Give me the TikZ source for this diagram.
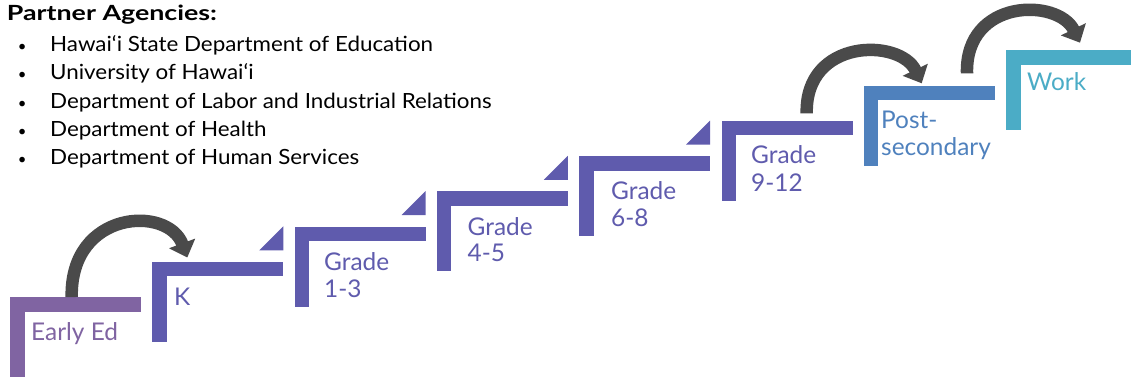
\documentclass[tikz,border=0pt]{standalone}
\usepackage{fontspec}
\setmainfont{Lato}
\newfontfamily\listfont[FakeStretch=1.07]{Lato}
\newfontfamily\headfont[FakeStretch=1.28]{Lato}
\usetikzlibrary{arrows.meta}
\definecolor{cEarly}{HTML}{8064A2}
\definecolor{cStep}{HTML}{5F5BAD}
\definecolor{cPost}{HTML}{4F81BD}
\definecolor{cWork}{HTML}{4BACC6}
\definecolor{cArrow}{HTML}{4A4A4A}
\tikzset{
  lab/.style={anchor=base west, inner sep=0pt, font=\fontsize{24.5}{27.7}\selectfont},
  listtxt/.style={anchor=base west, inner sep=0pt, font=\listfont\fontsize{21}{24}\selectfont},
  bul/.style={anchor=base, inner sep=0pt, font=\fontsize{15}{18}\selectfont},
  arr/.style={draw=cArrow, line width=12.5bp, -{Triangle[length=15bp,width=27bp]}},
}
\begin{document}
\begin{tikzpicture}[x=1bp,y=-1bp]
\useasboundingbox (0,0) rectangle (1131,377);
\clip (0,0) rectangle (1131,377);

% steps
\foreach \i/\c in {0/cEarly,1/cStep,2/cStep,3/cStep,4/cStep,5/cStep,6/cPost,7/cWork}{
  \coordinate (s\i) at ({10+142.3*\i},{297-35.25*\i});
  \fill[\c] (s\i) rectangle ++(131,14.5);
  \fill[\c] (s\i) rectangle ++(14.5,80);
}
% small triangles
\foreach \i in {1,2,3,4}{
  \fill[cStep] ([shift={(131,-35.5)}]s\i) -- ++(0,24) -- ++(-24,0) -- cycle;
}

% labels
\node[lab, text=cEarly] (l0) at (31,340) {Early Ed};
\node[lab, text=cStep] (l1) at (174,305) {K};
\node[lab, text=cStep] (l2a) at (324,270) {Grade};
\node[lab, text=cStep] (l2b) at (324,297.7) {1-3};
\node[lab, text=cStep] (l3a) at (467.5,235) {Grade};
\node[lab, text=cStep] (l3b) at (467.5,261.7) {4-5};
\node[lab, text=cStep] (l4a) at (611,199) {Grade};
\node[lab, text=cStep] (l4b) at (611,226.7) {6-8};
\node[lab, text=cStep] (l5a) at (751,163.3) {Grade};
\node[lab, text=cStep] (l5b) at (751,191.7) {9-12};
\node[lab, text=cPost] (l6a) at (881,128.3) {Post-};
\node[lab, text=cPost] (l6b) at (881,155) {secondary};
\node[lab, text=cWork] (l7) at (1027,90.7) {Work};

% arrows
\coordinate (a1s) at (71.7,297);
\coordinate (a1e) at (187.3,257.5);
\coordinate (a2s) at (806.7,113.3);
\coordinate (a2e) at (921.7,83.3);
\coordinate (a3s) at (967,73.3);
\coordinate (a3e) at (1080,42.7);
\draw[arr] (a1s) .. controls (70,210) and (168,205) .. (a1e);
\draw[arr] (a2s) .. controls (805,38) and (900,38) .. (a2e);
\draw[arr] (a3s) .. controls (965,-2) and (1058,-2) .. (a3e);

% partner list
\node[anchor=base west, inner sep=0pt, font=\headfont\fontsize{21}{24}\selectfont\bfseries] (hd) at (6.7,20) {Partner Agencies:};
\foreach \t [count=\k] in {Hawai‘i State Department of Education,University of Hawai‘i,Department of Labor and Industrial Relations,Department of Health,Department of Human Services}{
  \node[bul] (b\k) at (22.3,{51.7+28.2*(\k-1)}) {•};
  \node[listtxt] (t\k) at (50,{51.7+28.2*(\k-1)}) {\t};
}
\end{tikzpicture}
\end{document}
